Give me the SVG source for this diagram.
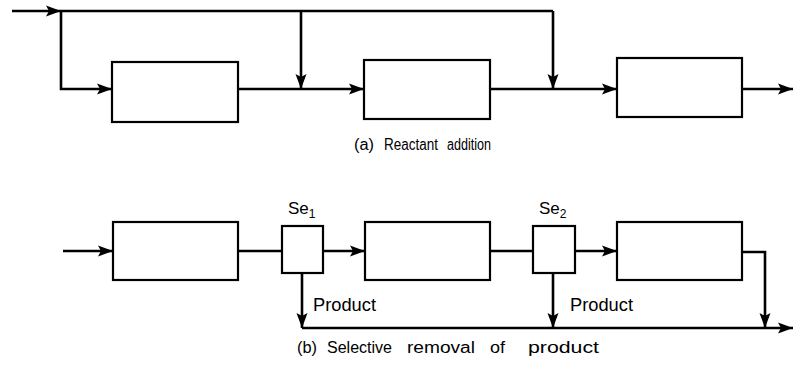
<svg xmlns="http://www.w3.org/2000/svg" width="793" height="365" viewBox="0 0 793 365">
<defs>
<marker id="ah" markerUnits="userSpaceOnUse" markerWidth="16" markerHeight="12" viewBox="0 0 16 12" refX="15" refY="6" orient="auto">
<path d="M0,0.5 L15,6 L0,11.5 L3,6 Z" fill="#000"/>
</marker>
<style>
.box{fill:#fff;stroke:#000;stroke-width:2.2}
.ln{fill:none;stroke:#000;stroke-width:2.6}
.arr{marker-end:url(#ah)}
.lbl{font-family:"Liberation Sans",Arial,sans-serif;font-size:16px;fill:#000}
.t{font-family:"Liberation Sans",Arial,sans-serif;font-size:18px;fill:#000}
</style>
</defs>
<rect width="793" height="365" fill="#fff"/>
<g id="connectors">
<path class="ln arr" d="M12,11 H61"/>
<path class="ln" d="M61,11 H553"/>
<path class="ln arr" d="M61,11 V89 H112"/>
<path class="ln arr" d="M301,11 V89"/>
<path class="ln arr" d="M238,89 H364"/>
<path class="ln arr" d="M553,11 V89"/>
<path class="ln arr" d="M490,89 H617"/>
<path class="ln arr" d="M742,89 H793"/>
<path class="ln arr" d="M63,251 H113"/>
<path class="ln" d="M238,251 H282"/>
<path class="ln arr" d="M323,251 H365"/>
<path class="ln" d="M490,251 H533"/>
<path class="ln arr" d="M575,251 H617"/>
<path class="ln arr" d="M302,273 V328"/>
<path class="ln arr" d="M553,273 V328"/>
<path class="ln arr" d="M742,252 H765 V328"/>
<path class="ln arr" d="M302,328 H793"/>
</g>
<g id="a-reactor1"><rect class="box" x="112" y="62" width="126" height="60"/></g>
<g id="a-reactor2"><rect class="box" x="364" y="60" width="126" height="59"/></g>
<g id="a-reactor3"><rect class="box" x="617" y="58" width="125" height="59"/></g>
<g id="b-reactor1"><rect class="box" x="113" y="222" width="125" height="58"/></g>
<g id="b-se1"><rect class="box" x="282" y="226" width="41" height="47"/>
<text class="t" x="288" y="214" style="font-size:17px">Se<tspan font-size="12" dy="4">1</tspan></text></g>
<g id="b-reactor2"><rect class="box" x="365" y="222" width="125" height="58"/></g>
<g id="b-se2"><rect class="box" x="533" y="226" width="42" height="47"/>
<text class="t" x="539" y="214" style="font-size:17px">Se<tspan font-size="12" dy="4">2</tspan></text></g>
<g id="b-reactor3"><rect class="box" x="617" y="222" width="125" height="58"/></g>
<g id="labels">
<text class="t" x="313" y="311" textLength="63" lengthAdjust="spacingAndGlyphs">Product</text>
<text class="t" x="570" y="311" textLength="63" lengthAdjust="spacingAndGlyphs">Product</text>
<text class="lbl" x="354" y="150" textLength="20" lengthAdjust="spacingAndGlyphs">(a)</text>
<text class="lbl" x="384" y="150" textLength="54" lengthAdjust="spacingAndGlyphs">Reactant</text>
<text class="lbl" x="447" y="150" textLength="44" lengthAdjust="spacingAndGlyphs">addition</text>
<text class="lbl" x="297" y="353" textLength="20" lengthAdjust="spacingAndGlyphs">(b)</text>
<text class="lbl" x="327" y="353" textLength="65" lengthAdjust="spacingAndGlyphs">Selective</text>
<text class="lbl" x="407" y="353" textLength="68" lengthAdjust="spacingAndGlyphs">removal</text>
<text class="lbl" x="490" y="353" textLength="15" lengthAdjust="spacingAndGlyphs">of</text>
<text class="lbl" x="528" y="353" textLength="71" lengthAdjust="spacingAndGlyphs">product</text>
</g>
</svg>
